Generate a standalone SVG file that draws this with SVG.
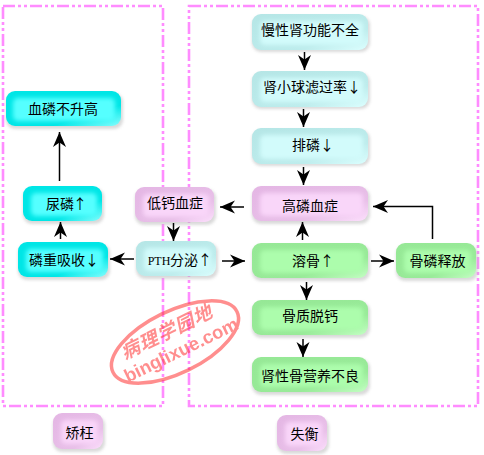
<svg xmlns="http://www.w3.org/2000/svg" width="484" height="455" viewBox="0 0 484 455">
<style>
.n text{font-family:"Noto Sans CJK SC","Liberation Sans",sans-serif;font-size:14px;fill:#000;text-anchor:middle}
.shadow{fill:#bbb;opacity:.55;filter:url(#b1)}
.inner{filter:url(#b2)}
.frame{fill:none;stroke:#ff8cff;stroke-width:2.600;stroke-dasharray:12 3 3 3 3 3}
.c line,.c path{fill:none;stroke:#000;stroke-width:1.5;marker-end:url(#ah)}
.cy .base{fill:url(#gc)}.cy .inner{fill:#5ff}
.lc .base{fill:url(#gl)}.lc .inner{fill:#d2fbfb}
.pk .base{fill:url(#gp)}.pk .inner{fill:#f9d6f9}
.gr .base{fill:url(#gg)}.gr .inner{fill:#acfdac}
</style>
<defs>
<filter id="b1" x="-20%" y="-30%" width="140%" height="160%"><feGaussianBlur stdDeviation="1.5"/></filter>
<filter id="b2" x="-20%" y="-30%" width="140%" height="160%"><feGaussianBlur stdDeviation="2"/></filter>
<linearGradient id="gc" x1="0" y1="0" x2="1" y2="1"><stop offset="0" stop-color="#00e6e6"/><stop offset=".7" stop-color="#00e6e6"/><stop offset="1" stop-color="#8ff"/></linearGradient>
<linearGradient id="gl" x1="0" y1="0" x2="1" y2="1"><stop offset="0" stop-color="#b5e6e6"/><stop offset=".7" stop-color="#bdecec"/><stop offset="1" stop-color="#dcffff"/></linearGradient>
<linearGradient id="gp" x1="0" y1="0" x2="1" y2="1"><stop offset="0" stop-color="#e4b6e4"/><stop offset=".7" stop-color="#e8bfe8"/><stop offset="1" stop-color="#fde0fd"/></linearGradient>
<linearGradient id="gg" x1="0" y1="0" x2="1" y2="1"><stop offset="0" stop-color="#96e896"/><stop offset=".7" stop-color="#98ea98"/><stop offset="1" stop-color="#c4ffc4"/></linearGradient>
<marker id="ah" markerUnits="userSpaceOnUse" markerWidth="17" markerHeight="15" refX="15" refY="7" orient="auto"><path d="M15 7L0 0.500L4.500 7L0 13.500Z" fill="#000"/></marker>
</defs>
<rect width="484" height="455" fill="#fff"/>
<g id="frames">
<rect class="frame" x="3" y="6" width="160" height="400"/>
<rect class="frame" x="189" y="6" width="289" height="400"/>
</g>
<g id="n1" class="n cy"><rect class="shadow" x="6" y="93" width="117" height="36" rx="9"/><rect class="base" x="6" y="91" width="115" height="35" rx="9"/><rect class="inner" x="13" y="98" width="102" height="23" rx="5"/><text x="63" y="114">血磷不升高</text></g>
<g id="n2" class="n cy"><rect class="shadow" x="23" y="188" width="81" height="36" rx="9"/><rect class="base" x="23" y="186" width="79" height="35" rx="9"/><rect class="inner" x="31" y="193" width="66" height="23" rx="5"/><text y="209"><tspan x="60">尿磷</tspan><tspan x="80">↑</tspan></text></g>
<g id="n3" class="n pk"><rect class="shadow" x="135" y="189" width="81" height="36" rx="9"/><rect class="base" x="135" y="187" width="79" height="35" rx="9"/><rect class="inner" x="143" y="194" width="66" height="23" rx="5"/><text x="175" y="208">低钙血症</text></g>
<g id="n4" class="n cy"><rect class="shadow" x="18" y="244" width="92" height="36" rx="9"/><rect class="base" x="18" y="242" width="90" height="35" rx="9"/><rect class="inner" x="26" y="249" width="77" height="23" rx="5"/><text y="265"><tspan x="57">磷重吸收</tspan><tspan x="92">↓</tspan></text></g>
<g id="n5" class="n lc"><rect class="shadow" x="136" y="243" width="82" height="36" rx="9"/><rect class="base" x="136" y="241" width="80" height="35" rx="9"/><rect class="inner" x="144" y="248" width="67" height="23" rx="5"/><text y="265"><tspan x="159" style="font-size:12px;font-family:'Liberation Serif',serif">PTH</tspan><tspan x="184">分泌</tspan><tspan x="205">↑</tspan></text></g>
<g id="n6" class="n pk"><rect class="shadow" x="53" y="416" width="52" height="36" rx="9"/><rect class="base" x="53" y="413" width="50" height="36" rx="9"/><rect class="inner" x="61" y="420" width="37" height="24" rx="5"/><text x="79.500" y="438">矫枉</text></g>
<g id="n7" class="n lc"><rect class="shadow" x="252" y="16" width="118" height="36" rx="9"/><rect class="base" x="252" y="14" width="116" height="36" rx="9"/><rect class="inner" x="260" y="21" width="103" height="24" rx="5"/><text x="310" y="35">慢性肾功能不全</text></g>
<g id="n8" class="n lc"><rect class="shadow" x="252" y="73" width="118" height="36" rx="9"/><rect class="base" x="252" y="71" width="116" height="36" rx="9"/><rect class="inner" x="260" y="78" width="103" height="24" rx="5"/><text y="92"><tspan x="305">肾小球滤过率</tspan><tspan x="354">↓</tspan></text></g>
<g id="n9" class="n lc"><rect class="shadow" x="252" y="130" width="118" height="36" rx="9"/><rect class="base" x="252" y="128" width="116" height="36" rx="9"/><rect class="inner" x="260" y="135" width="103" height="24" rx="5"/><text y="150"><tspan x="306">排磷</tspan><tspan x="327">↓</tspan></text></g>
<g id="n10" class="n pk"><rect class="shadow" x="252" y="188" width="118" height="36" rx="9"/><rect class="base" x="252" y="186" width="116" height="35" rx="9"/><rect class="inner" x="260" y="193" width="103" height="23" rx="5"/><text x="310" y="211">高磷血症</text></g>
<g id="n11" class="n gr"><rect class="shadow" x="252" y="245" width="118" height="36" rx="9"/><rect class="base" x="252" y="243" width="116" height="35" rx="9"/><rect class="inner" x="260" y="250" width="103" height="23" rx="5"/><text y="266"><tspan x="306">溶骨</tspan><tspan x="327">↑</tspan></text></g>
<g id="n12" class="n gr"><rect class="shadow" x="252" y="302" width="118" height="36" rx="9"/><rect class="base" x="252" y="300" width="116" height="35" rx="9"/><rect class="inner" x="260" y="307" width="103" height="23" rx="5"/><text x="310" y="321">骨质脱钙</text></g>
<g id="n13" class="n gr"><rect class="shadow" x="252" y="359" width="118" height="36" rx="9"/><rect class="base" x="252" y="357" width="116" height="35" rx="9"/><rect class="inner" x="260" y="364" width="103" height="23" rx="5"/><text x="310" y="381">肾性骨营养不良</text></g>
<g id="n14" class="n gr"><rect class="shadow" x="396" y="245" width="82" height="36" rx="9"/><rect class="base" x="396" y="243" width="80" height="35" rx="9"/><rect class="inner" x="404" y="250" width="67" height="23" rx="5"/><text x="437.500" y="266">骨磷释放</text></g>
<g id="n15" class="n pk"><rect class="shadow" x="277" y="418" width="52" height="36" rx="9"/><rect class="base" x="277" y="415" width="50" height="36" rx="9"/><rect class="inner" x="285" y="422" width="37" height="24" rx="5"/><text x="304.500" y="439">失衡</text></g>
<g id="connectors" class="c">
<line x1="304.500" y1="52" x2="304.500" y2="70"/>
<line x1="303.500" y1="109" x2="303.500" y2="127"/>
<line x1="303.500" y1="167" x2="303.500" y2="185"/>
<line x1="244" y1="207" x2="220" y2="207"/>
<path d="M432.500 239V206.500H373"/>
<line x1="302.500" y1="240" x2="302.500" y2="222"/>
<line x1="371" y1="261" x2="394" y2="261"/>
<line x1="306.500" y1="282" x2="306.500" y2="300"/>
<line x1="303" y1="339" x2="303" y2="357"/>
<line x1="222" y1="261" x2="245" y2="261"/>
<line x1="134" y1="259" x2="110" y2="259"/>
<line x1="173.500" y1="223" x2="173.500" y2="241"/>
<line x1="60.500" y1="239" x2="60.500" y2="222"/>
<line x1="59.500" y1="181" x2="59.500" y2="132"/>
</g>
<g id="watermark" opacity=".55" transform="rotate(-26 175 342)">
<ellipse cx="175" cy="342" rx="69" ry="31" fill="none" stroke="#f33" stroke-width="3.500"/>
<text x="172" y="336" text-anchor="middle" font-family="'Noto Sans CJK SC',sans-serif" font-size="19" font-weight="700" font-style="italic" fill="#f33" letter-spacing="1">病理学园地</text>
<text x="177" y="358" text-anchor="middle" font-family="'Liberation Sans',sans-serif" font-size="18.500" font-weight="700" fill="#f33">binglixue.com</text>
</g>
</svg>
